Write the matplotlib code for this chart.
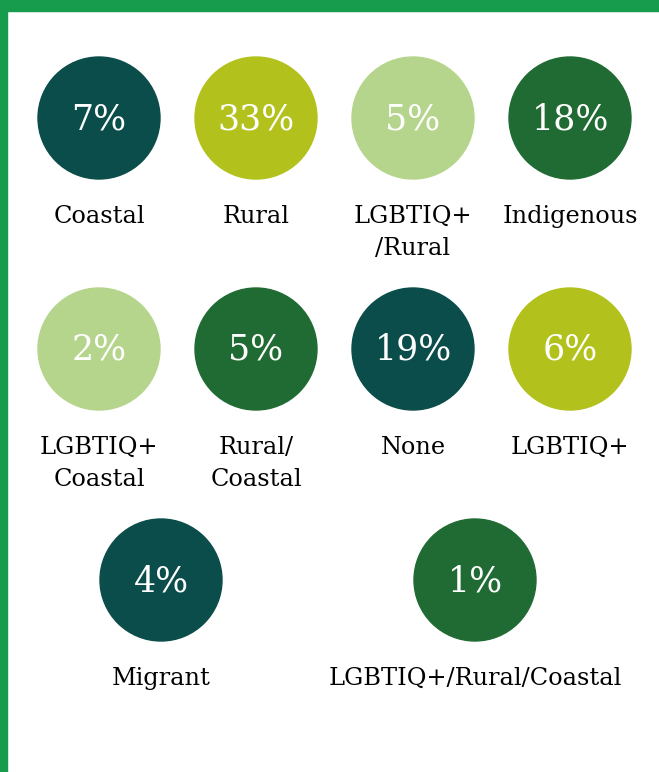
import matplotlib
matplotlib.use("Agg")
import matplotlib.pyplot as plt
from matplotlib.patches import Circle, Rectangle

# groups shown as bubbles
labels = ["Coastal", "Rural", "LGBTIQ+\n/Rural", "Indigenous",
          "LGBTIQ+\nCoastal", "Rural/\nCoastal", "None", "LGBTIQ+",
          "Migrant", "LGBTIQ+/Rural/Coastal"]
shares = [7, 33, 5, 18, 2, 5, 19, 6, 4, 1]
colors = ["#0b4d4a", "#b2c11c", "#b5d58c", "#206b33",
          "#b5d58c", "#206b33", "#0b4d4a", "#b2c11c",
          "#0b4d4a", "#206b33"]

W, H = 659, 772
fig = plt.figure(figsize=(W / 100, H / 100), dpi=100)
ax = fig.add_axes([0, 0, 1, 1])
ax.set_xlim(0, W)
ax.set_ylim(H, 0)
ax.axis("off")

# green frame on top and left
ax.add_patch(Rectangle((0, 0), W, 11, color="#169c4c", zorder=5))
ax.add_patch(Rectangle((0, 0), 7, H, color="#169c4c", zorder=5))

r = 61
font = "DejaVu Serif"
for i, (lab, s, c) in enumerate(zip(labels, shares, colors)):
    if i < 8:
        row, col = divmod(i, 4)
        cx = 99 + col * 157
    else:
        row = 2
        cx = 161 + (i - 8) * 314
    cy = 118 + row * 231
    ax.add_patch(Circle((cx, cy), r, color=c, zorder=2))
    ax.text(cx, cy + 1, f"{s}%", color="white", fontsize=25, family=font,
            ha="center", va="center", zorder=3)
    ax.text(cx, cy + 87, lab, color="black", fontsize=17.3, family=font,
            ha="center", va="top", linespacing=1.5, zorder=3)

fig.savefig("out.png", dpi=100)
